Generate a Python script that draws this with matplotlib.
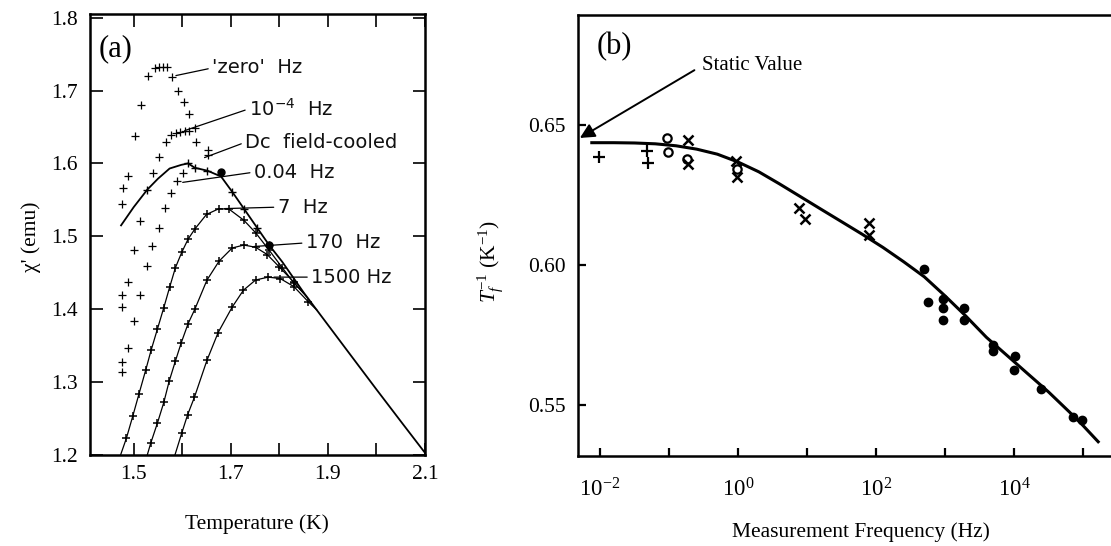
import numpy as np
import matplotlib
matplotlib.use('Agg')
import matplotlib.pyplot as plt
from matplotlib.ticker import MultipleLocator, FixedLocator, NullLocator, FixedFormatter

plt.rcParams['font.family'] = ['Liberation Serif', 'DejaVu Serif']
plt.rcParams['mathtext.fontset'] = 'custom'
plt.rcParams['mathtext.rm'] = 'Liberation Serif'
plt.rcParams['mathtext.it'] = 'Liberation Serif:italic'
plt.rcParams['mathtext.sf'] = 'DejaVu Sans'

# ---------------- panel (a): chi' vs temperature ----------------
# upper line (field-cooled / envelope)
fc_T = [1.474, 1.50, 1.528, 1.55, 1.574, 1.598, 1.612, 1.626, 1.652, 1.68, 1.703,
        1.727, 1.755, 1.779, 1.806, 1.85, 1.877, 1.939, 2.0, 2.055, 2.1]
fc_chi = [1.515, 1.540, 1.564, 1.579, 1.593, 1.598, 1.600, 1.594, 1.590, 1.582, 1.561,
          1.538, 1.511, 1.488, 1.465, 1.423, 1.399, 1.344, 1.290, 1.242, 1.203]

hz7_T = [1.473, 1.485, 1.498, 1.511, 1.525, 1.536, 1.549, 1.562, 1.574, 1.586, 1.599,
         1.612, 1.626, 1.650, 1.676, 1.697, 1.727, 1.751, 1.779, 1.806, 1.83, 1.85]
hz7_chi = [1.200, 1.223, 1.253, 1.284, 1.317, 1.344, 1.373, 1.402, 1.430, 1.457, 1.478,
           1.496, 1.510, 1.530, 1.538, 1.537, 1.522, 1.505, 1.481, 1.457, 1.436, 1.422]

hz170_T = [1.528, 1.535, 1.549, 1.562, 1.573, 1.586, 1.598, 1.612, 1.626, 1.651, 1.676,
           1.703, 1.727, 1.751, 1.775, 1.80, 1.83, 1.86]
hz170_chi = [1.200, 1.216, 1.244, 1.272, 1.301, 1.329, 1.354, 1.380, 1.400, 1.440, 1.466,
             1.484, 1.488, 1.485, 1.475, 1.458, 1.437, 1.414]

hz1500_T = [1.585, 1.599, 1.611, 1.625, 1.651, 1.674, 1.703, 1.726, 1.751, 1.777, 1.802,
            1.830, 1.860, 1.877]
hz1500_chi = [1.200, 1.230, 1.255, 1.279, 1.330, 1.368, 1.403, 1.426, 1.440, 1.444, 1.442,
              1.431, 1.410, 1.399]

# scattered crosses
zero_T = [1.4765, 1.4785, 1.4888, 1.5024, 1.516, 1.5297, 1.5433, 1.5521, 1.5603, 1.5691,
          1.5793, 1.591, 1.6033, 1.6149]
zero_chi = [1.5447, 1.5667, 1.5826, 1.637, 1.6804, 1.7205, 1.7305, 1.7319, 1.7329, 1.7329,
            1.7182, 1.700, 1.6849, 1.6681]

e4_T = [1.4751, 1.4765, 1.4888, 1.501, 1.5139, 1.5399, 1.5521, 1.5671, 1.5773, 1.5876,
        1.5944, 1.6047, 1.6149, 1.6264, 1.6285]
e4_chi = [1.4032, 1.4201, 1.4374, 1.4818, 1.521, 1.5872, 1.6086, 1.6292, 1.6384, 1.6415,
          1.6429, 1.6438, 1.6438, 1.6484, 1.6292]

f004_T = [1.4751, 1.4765, 1.4888, 1.501, 1.5139, 1.5276, 1.5385, 1.5521, 1.565, 1.5773,
          1.5896, 1.6012]
f004_chi = [1.3141, 1.327, 1.3462, 1.3836, 1.4201, 1.4593, 1.4867, 1.5119, 1.5393, 1.5593,
            1.5753, 1.5872]

dc_T = [1.6524, 1.6524]
dc_chi = [1.6178, 1.6119]

dots_T = [1.68, 1.779]
dots_chi = [1.588, 1.488]

# labels: (text, line start T, chi, text T, chi)
a_labels = [
    ("'zero'  Hz", 1.587, 1.7205, 1.662, 1.731),
    (r"$\mathsf{10^{-4}}$  Hz", 1.605, 1.645, 1.738, 1.675),
    ("Dc  field-cooled", 1.646, 1.608, 1.730, 1.629),
    ("0.04  Hz", 1.601, 1.574, 1.748, 1.588),
    ("7  Hz", 1.687, 1.538, 1.797, 1.540),
    ("170  Hz", 1.748, 1.486, 1.855, 1.491),
    ("1500 Hz", 1.789, 1.444, 1.866, 1.444),
]

# ---------------- panel (b): Tf^-1 vs frequency ----------------
fit_f = [0.00759, 0.0158, 0.0316, 0.0631, 0.126, 0.251, 0.501, 1.0, 2.0, 3.98, 7.94,
         15.8, 31.6, 63.1, 126, 251, 501, 1000, 2000, 3980, 7940, 15800, 31600, 63100,
         100000, 166000]
fit_y = [0.6437, 0.6437, 0.6436, 0.6433, 0.6426, 0.6414, 0.6396, 0.6368, 0.6333, 0.6290,
         0.6245, 0.6200, 0.6155, 0.6110, 0.6063, 0.6012, 0.5958, 0.5890, 0.5818, 0.5742,
         0.5677, 0.5612, 0.5547, 0.5476, 0.5427, 0.5369]

plus_f = [0.0098, 0.048, 0.050]
plus_y = [0.6385, 0.6408, 0.6363]

circ_f = [0.094, 0.098, 0.18, 0.98]
circ_y = [0.6455, 0.6402, 0.6378, 0.6343]

cross_f = [0.19, 0.19, 0.93, 0.98, 7.6, 9.5, 78, 79]
cross_y = [0.6446, 0.6361, 0.6371, 0.6313, 0.6204, 0.6165, 0.6149, 0.6107]

dot_f = [500, 575, 930, 930, 930, 1900, 1900, 4900, 5000, 10200, 10000, 24500, 72000, 98000]
dot_y = [0.5986, 0.5868, 0.5879, 0.5845, 0.5804, 0.5845, 0.5804, 0.5714, 0.5693, 0.5675,
         0.5624, 0.5558, 0.5458, 0.5446]

fig = plt.figure(figsize=(11.11, 5.46), dpi=100)
axa = fig.add_axes([0.081, 0.1667, 0.3015, 0.8077])
axb = fig.add_axes([0.5203, 0.1648, 0.4797, 0.8077])

# ---- (a)
k = 'black'
axa.plot(fc_T, fc_chi, color=k, lw=1.3, marker='+', ms=6, mew=1.0,
         markevery=[2, 6, 7, 8, 10, 11, 12, 13])
for T, c in [(hz7_T, hz7_chi), (hz170_T, hz170_chi), (hz1500_T, hz1500_chi)]:
    axa.plot(T, c, color=k, lw=0.9, marker='+', ms=6, mew=1.1, markevery=slice(1, -1))
for T, c in [(zero_T, zero_chi), (e4_T, e4_chi), (f004_T, f004_chi), (dc_T, dc_chi)]:
    axa.plot(T, c, ls='none', color=k, marker='+', ms=5.5, mew=0.9)
axa.plot(dots_T, dots_chi, ls='none', color=k, marker='o', ms=5)

for txt, x0, y0, x1, y1 in a_labels:
    axa.annotate(txt, xy=(x0, y0), xytext=(x1, y1), ha='left', va='center',
                 family='DejaVu Sans', fontsize=14, color='#111111',
                 arrowprops=dict(arrowstyle='-', lw=0.9, color=k,
                                 shrinkA=1, shrinkB=0, relpos=(0, 0.5)))

axa.text(1.428, 1.758, '(a)', fontsize=22, va='center')

axa.set_xlim(1.41, 2.1)
axa.set_ylim(1.2, 1.805)
axa.xaxis.set_major_locator(FixedLocator([1.5, 1.7, 1.9, 2.1]))
axa.xaxis.set_minor_locator(MultipleLocator(0.1))
axa.yaxis.set_major_locator(MultipleLocator(0.1))
axa.tick_params(which='both', direction='in', top=True, right=True, width=1.2, length=9,
                labelsize=15.5)
axa.tick_params(axis='x', pad=7)
axa.tick_params(axis='y', pad=9)
for s in axa.spines.values():
    s.set_linewidth(1.8)
axa.set_xlabel('Temperature (K)', fontsize=15.5)
axa.xaxis.set_label_coords(0.497, -0.134)
axa.set_ylabel("\u03c7' (emu)", fontsize=15.5)
axa.yaxis.set_label_coords(-0.145, 0.494)

# ---- (b)
axb.set_xscale('log')
axb.plot(fit_f, fit_y, color=k, lw=2.2, zorder=3)
axb.plot(plus_f, plus_y, ls='none', color=k, marker='+', ms=9, mew=1.6)
axb.plot(circ_f, circ_y, ls='none', mfc='none', mec=k, marker='o', ms=6, mew=1.6)
axb.plot(cross_f, cross_y, ls='none', color=k, marker='x', ms=6.5, mew=1.8)
axb.plot(dot_f, dot_y, ls='none', color=k, marker='o', ms=6)

axb.annotate('Static Value', xy=(0.0051, 0.6454), xytext=(0.30, 0.6712),
             ha='left', va='center', fontsize=15,
             arrowprops=dict(arrowstyle='-|>', lw=1.4, color=k, mutation_scale=22,
                             shrinkA=4, shrinkB=0, relpos=(0, 0.5)))
axb.text(0.0089, 0.6779, '(b)', fontsize=22, va='center')

axb.set_xlim(10 ** -2.319, 10 ** 5.406)
axb.set_ylim(0.5318, 0.6893)
decades = [1e-2, 1e-1, 1e0, 1e1, 1e2, 1e3, 1e4, 1e5]
dec_labels = [r'$10^{-2}$', '', r'$10^{0}$', '', r'$10^{2}$', '', r'$10^{4}$', '']
axb.xaxis.set_major_locator(FixedLocator(decades))
axb.xaxis.set_major_formatter(FixedFormatter(dec_labels))
axb.xaxis.set_minor_locator(NullLocator())
axb.yaxis.set_major_locator(FixedLocator([0.55, 0.60, 0.65]))
axb.yaxis.set_major_formatter(FixedFormatter(['0.55', '0.60', '0.65']))
axb.tick_params(direction='in', width=1.6, length=6)
axb.tick_params(axis='x', labelsize=16.5, pad=16)
axb.tick_params(axis='y', labelsize=15.5, pad=9)
axb.spines['right'].set_visible(False)
for s in ['left', 'top', 'bottom']:
    axb.spines[s].set_linewidth(1.8)
axb.set_xlabel('Measurement Frequency (Hz)', fontsize=15.5)
axb.xaxis.set_label_coords(0.53, -0.15)
axb.set_ylabel(r'$T_f^{-1}$ (K$^{-1}$)', fontsize=15.5)
axb.yaxis.set_label_coords(-0.138, 0.44)

fig.savefig('out.png', dpi=100)
